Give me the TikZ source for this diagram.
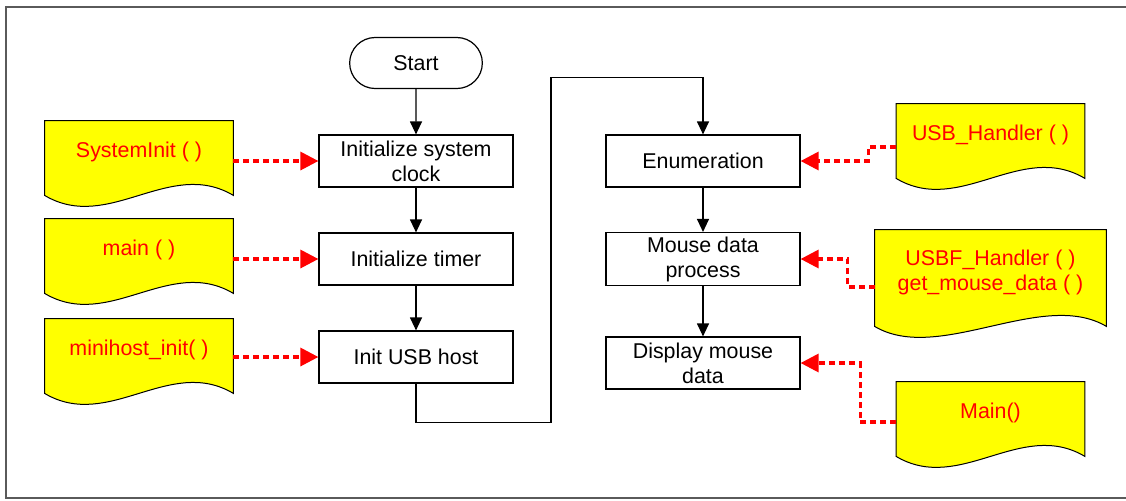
\documentclass[tikz,border=0pt]{standalone}
\usepackage{fontspec}
\setmainfont{Liberation Sans}
\usetikzlibrary{arrows.meta,backgrounds,calc,shapes.misc}

\definecolor{docyellow}{RGB}{255,255,0}
\definecolor{callred}{RGB}{255,0,0}
\definecolor{framegray}{RGB}{90,90,90}

\tikzset{
  stepbox/.style={draw, line width=0.6pt, minimum width=97pt, minimum height=26pt, align=center, inner sep=2pt},
  startbox/.style={draw, rounded rectangle, line width=0.6pt, minimum width=73pt, minimum height=25.5pt},
  docbox/.style={minimum width=94pt, minimum height=31pt, align=center, text=callred, inner sep=2pt},
  flow/.style={-{Triangle[length=6.5pt,width=6pt]}, line width=0.6pt},
  hook/.style={-{Triangle[length=9pt,width=9pt]}, callred, line width=1.6pt, dash pattern=on 3pt off 2pt},
}
\newcommand{\docshape}[1]{%
  \filldraw[fill=docyellow, draw=black, line width=0.5pt]
    (#1.north west) -- (#1.north east) -- ($(#1.south east)+(0,-6pt)$)
    .. controls +(-32pt,19pt) and +(32pt,-19pt) .. ($(#1.south west)+(0,-6pt)$) -- cycle;}

\begin{document}
\begin{tikzpicture}[node distance=49pt, font=\fontsize{10.7}{12.5}\selectfont]
  \useasboundingbox (0,0) rectangle (563pt,-250pt);
  \draw[framegray, line width=1pt] (3pt,-3.5pt) rectangle (566pt,-249pt);

  \node[startbox] (po0) at (208pt,-31.5pt) {Start};
  \node[stepbox] (po1) [below of=po0] {Initialize system\\clock};
  \node[stepbox] (po2) [below of=po1] {Initialize timer};
  \node[stepbox] (po3) [below of=po2] {Init USB host};
  \node[stepbox] (po4) [right of=po1, node distance=143.5pt] {Enumeration};
  \node[stepbox] (po5) [below of=po4] {Mouse data\\process};
  \node[stepbox] (po6) [below of=po5, yshift=-3pt] {Display mouse\\data};

  % routines that do the work
  \node[docbox] (fn1) [left of=po1, node distance=138.5pt, yshift=4.5pt] {SystemInit ( )};
  \node[docbox] (fn2) [left of=po2, node distance=138.5pt, yshift=4.5pt] {main ( )};
  \node[docbox] (fn3) [left of=po3, node distance=138.5pt, yshift=3.5pt] {minihost\_init( )};
  \node[docbox] (fn4) [right of=po4, node distance=143.75pt, yshift=13pt] {USB\_Handler ( )};
  \node[docbox, minimum width=115.5pt, minimum height=42pt] (fn5) [right of=po5, node distance=143.75pt, yshift=-6.5pt] {USBF\_Handler ( )\\get\_mouse\_data ( )};
  \node[docbox] (fn6) [right of=po6, node distance=143.75pt, yshift=-25pt] {Main()};

  \begin{scope}[on background layer]
    \docshape{fn1} \docshape{fn2} \docshape{fn3}
    \docshape{fn4} \docshape{fn5} \docshape{fn6}
  \end{scope}

  \draw[flow] (po0) -- (po1);
  \draw[flow] (po1) -- (po2);
  \draw[flow] (po2) -- (po3);
  \draw[flow] (po3.south) -- ++(0,-19.5pt) -- ++(67.5pt,0) |- ($(po4.north)+(0,28.5pt)$) -- (po4.north);
  \draw[flow] (po4) -- (po5);
  \draw[flow] (po5) -- (po6);

  \draw[hook] (fn1.east |- po1) -- (po1);
  \draw[hook] (fn2.east |- po2) -- (po2);
  \draw[hook] (fn3.east |- po3) -- (po3);
  \draw[hook] ($(fn4.west)+(0,-6pt)$) -- ++(-14pt,0) |- (po4.east);
  \draw[hook] ($(fn5.west)+(0,-7.5pt)$) -- ++(-13.5pt,0) |- (po5.east);
  \draw[hook] ($(fn6.west)+(0,-4.5pt)$) -- ++(-18pt,0) |- (po6.east);
\end{tikzpicture}
\end{document}
